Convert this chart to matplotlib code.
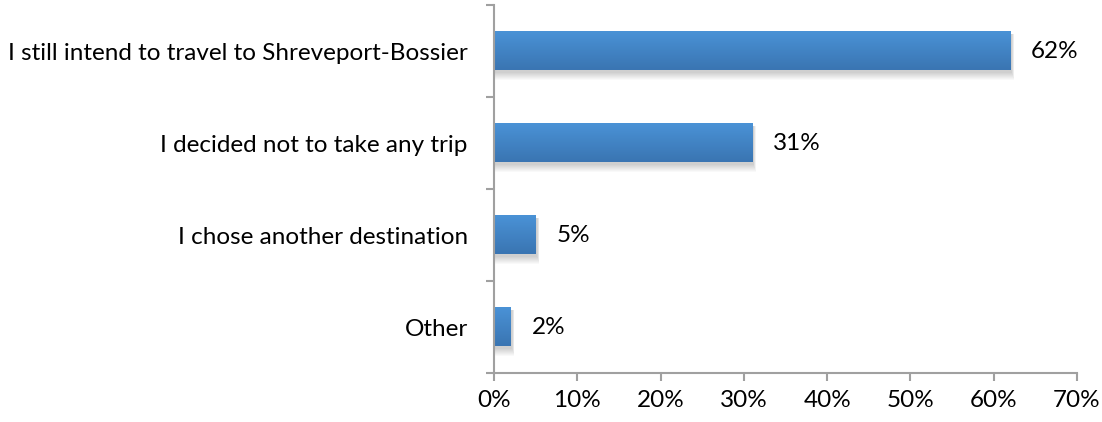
import numpy as np
import matplotlib.pyplot as plt
from matplotlib.colors import LinearSegmentedColormap
from matplotlib.patches import Rectangle

answers = [
    "I still intend to travel to Shreveport-Bossier",
    "I decided not to take any trip",
    "I chose another destination",
    "Other",
]
shares = [62, 31, 5, 2]
x_ticks = [0, 10, 20, 30, 40, 50, 60, 70]

plt.rcParams["font.family"] = ["Lato", "DejaVu Sans"]
label_size = 17.5

fig = plt.figure(figsize=(11.02, 4.22), dpi=100)
ax = fig.add_axes([0.4483, 0.1161, 0.5290, 0.8720])

bar_blue = LinearSegmentedColormap.from_list("bar_blue", ["#4a92d6", "#3a75b2"])
gradient = np.linspace(0, 1, 64).reshape(-1, 1)

n = len(answers)
positions = np.arange(n)[::-1]
bar_height = 0.42

for pos, value in zip(positions, shares):
    bottom = pos - bar_height / 2
    top = pos + bar_height / 2
    # soft drop shadow under each bar
    for step in range(8):
        grow = step * 0.012
        shadow = Rectangle((0, bottom - 0.025 - grow), value + 0.2 + grow * 3, bar_height + grow,
                           facecolor="black", edgecolor="none", alpha=0.025, zorder=1)
        ax.add_patch(shadow)
    ax.imshow(gradient, cmap=bar_blue, aspect="auto", extent=(0, value, bottom, top),
              origin="upper", zorder=2, interpolation="bilinear")
    ax.annotate(f"{value}%", xy=(value, pos), xytext=(15, 0), textcoords="offset points",
                va="center", ha="left", fontsize=label_size, color="black")

ax.set_xlim(0, 70)
ax.set_ylim(-0.5, n - 0.5)
ax.set_xticks(x_ticks)
ax.set_xticklabels([f"{t}%" for t in x_ticks], fontsize=label_size)
ax.set_yticks(positions)
ax.set_yticklabels(answers, fontsize=label_size)
ax.set_yticks(np.arange(-0.5, n, 1), minor=True)

axis_gray = "#a0a0a0"
for side in ["top", "right"]:
    ax.spines[side].set_visible(False)
for side in ["left", "bottom"]:
    ax.spines[side].set_color(axis_gray)
    ax.spines[side].set_linewidth(1.5)

ax.tick_params(axis="y", which="major", length=0, pad=19)
ax.tick_params(axis="y", which="minor", length=6, width=1.5, color=axis_gray)
ax.tick_params(axis="x", length=6, width=1.5, color=axis_gray, pad=6)

fig.savefig("out.png", dpi=100)
